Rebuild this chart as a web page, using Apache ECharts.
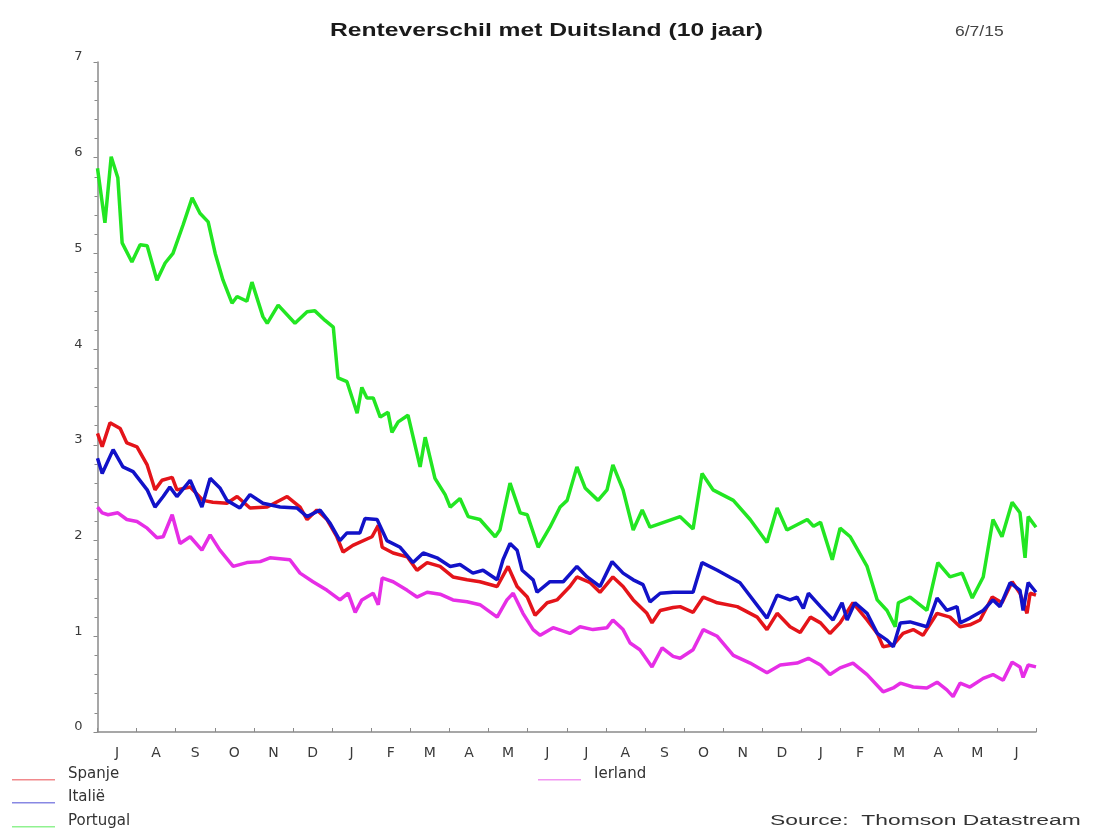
<!DOCTYPE html>
<html>
<head>
<meta charset="utf-8">
<script src="https://cdn.jsdelivr.net/npm/echarts@6/dist/echarts.min.js"></script>
<style>
html,body{margin:0;padding:0;background:#fff;}
#chart{width:1096px;height:830px;}
</style>
</head>
<body>
<div id="chart"></div>
<script>
// month labels (July 2013 - June 2015)
const monthLabels = ['J','A','S','O','N','D','J','F','M','A','M','J','J','A','S','O','N','D','J','F','M','A','M','J'];
const yTicks = [0,1,2,3,4,5,6,7];
const titleText = 'Renteverschil met Duitsland (10 jaar)';
const dateText = '6/7/15';
const sourceText = 'Source:  Thomson Datastream';

// time in months since 1 July 2013, values in percentage points
const spanjeT = [0.00,0.12,0.32,0.58,0.75,1.01,1.27,1.47,1.65,1.91,2.03,2.37,2.70,2.95,3.31,3.57,3.90,4.34,4.85,5.18,5.36,5.61,5.87,6.12,6.28,6.53,7.02,7.18,7.28,7.56,7.92,8.17,8.43,8.76,9.09,9.45,9.78,10.22,10.50,10.73,10.99,11.19,11.50,11.75,12.08,12.26,12.60,12.85,13.18,13.44,13.70,14.05,14.18,14.39,14.72,14.90,15.23,15.49,15.85,16.36,16.87,17.12,17.38,17.71,17.97,18.23,18.49,18.73,18.99,19.32,19.68,19.94,20.09,20.35,20.60,20.86,21.11,21.47,21.80,22.06,22.31,22.57,22.88,23.13,23.39,23.59,23.77,23.85,24.00];
const spanjeV = [3.12,2.98,3.23,3.17,3.02,2.98,2.79,2.53,2.63,2.66,2.53,2.56,2.42,2.40,2.39,2.46,2.34,2.35,2.46,2.35,2.22,2.32,2.22,2.04,1.88,1.95,2.04,2.16,1.93,1.87,1.83,1.69,1.77,1.73,1.62,1.59,1.57,1.52,1.73,1.52,1.41,1.22,1.35,1.38,1.52,1.62,1.56,1.46,1.62,1.52,1.38,1.24,1.14,1.27,1.30,1.31,1.25,1.41,1.35,1.31,1.20,1.07,1.24,1.10,1.04,1.20,1.14,1.03,1.14,1.35,1.17,1.03,0.89,0.91,1.03,1.07,1.01,1.24,1.20,1.10,1.12,1.17,1.41,1.35,1.57,1.45,1.24,1.45,1.43];

const italieT = [0.00,0.12,0.40,0.65,0.91,1.27,1.47,1.68,1.85,2.03,2.37,2.67,2.88,3.13,3.31,3.64,3.90,4.23,4.67,5.10,5.36,5.69,5.95,6.20,6.38,6.71,6.84,7.15,7.40,7.74,8.07,8.33,8.68,9.02,9.27,9.60,9.86,10.22,10.37,10.55,10.73,10.86,11.14,11.24,11.57,11.91,12.26,12.52,12.85,13.16,13.44,13.70,13.95,14.13,14.39,14.72,15.23,15.46,15.85,16.43,17.12,17.38,17.71,17.89,18.05,18.18,18.49,18.81,19.04,19.17,19.37,19.68,19.94,20.19,20.35,20.53,20.78,21.21,21.47,21.72,21.98,22.06,22.31,22.65,22.90,23.08,23.34,23.59,23.67,23.80,24.00];
const italieV = [2.86,2.70,2.95,2.77,2.72,2.53,2.35,2.46,2.56,2.46,2.63,2.35,2.65,2.55,2.42,2.34,2.48,2.39,2.35,2.34,2.25,2.32,2.18,2.00,2.08,2.08,2.23,2.22,2.00,1.93,1.77,1.87,1.82,1.73,1.75,1.66,1.69,1.59,1.80,1.97,1.90,1.69,1.59,1.46,1.57,1.57,1.73,1.62,1.52,1.78,1.66,1.59,1.54,1.36,1.45,1.46,1.46,1.77,1.69,1.56,1.19,1.43,1.38,1.41,1.29,1.45,1.31,1.17,1.35,1.17,1.35,1.24,1.03,0.96,0.89,1.14,1.15,1.10,1.40,1.27,1.31,1.14,1.19,1.27,1.38,1.31,1.56,1.48,1.27,1.56,1.46];

const portugalT = [0.00,0.19,0.35,0.52,0.63,0.88,1.09,1.27,1.52,1.73,1.93,2.19,2.42,2.62,2.83,3.01,3.21,3.44,3.57,3.82,3.95,4.23,4.34,4.62,5.05,5.36,5.56,5.82,6.03,6.15,6.38,6.64,6.76,6.89,7.05,7.23,7.43,7.53,7.69,7.94,8.25,8.38,8.63,8.89,9.02,9.27,9.48,9.78,10.17,10.29,10.55,10.81,10.99,11.27,11.57,11.83,12.01,12.26,12.47,12.80,13.03,13.18,13.44,13.70,13.93,14.13,14.90,15.23,15.46,15.74,16.26,16.69,17.12,17.38,17.63,18.15,18.31,18.49,18.79,18.99,19.25,19.68,19.94,20.19,20.40,20.48,20.78,21.21,21.49,21.80,22.11,22.37,22.65,22.90,23.13,23.39,23.59,23.72,23.80,24.00];
const portugalV = [5.89,5.32,6.01,5.79,5.11,4.91,5.09,5.08,4.72,4.90,5.00,5.30,5.58,5.42,5.33,5.00,4.72,4.48,4.55,4.50,4.70,4.34,4.27,4.46,4.27,4.39,4.40,4.30,4.23,3.70,3.66,3.33,3.60,3.49,3.49,3.29,3.34,3.13,3.24,3.31,2.77,3.08,2.65,2.48,2.35,2.44,2.25,2.22,2.04,2.11,2.60,2.29,2.27,1.93,2.14,2.35,2.42,2.77,2.55,2.42,2.53,2.79,2.53,2.11,2.32,2.14,2.25,2.12,2.70,2.53,2.42,2.22,1.98,2.34,2.11,2.22,2.15,2.19,1.80,2.13,2.04,1.73,1.38,1.27,1.10,1.35,1.41,1.27,1.77,1.62,1.66,1.40,1.62,2.22,2.04,2.40,2.29,1.82,2.25,2.14];

const ierlandT = [0.00,0.12,0.27,0.52,0.75,1.01,1.27,1.52,1.68,1.91,2.11,2.37,2.67,2.88,3.13,3.47,3.82,4.16,4.41,4.92,5.18,5.51,5.87,6.20,6.41,6.59,6.76,7.05,7.18,7.28,7.56,7.92,8.17,8.43,8.76,9.09,9.45,9.78,10.22,10.47,10.63,10.88,11.14,11.32,11.65,12.08,12.34,12.67,13.03,13.18,13.44,13.62,13.87,14.18,14.44,14.72,14.90,15.23,15.49,15.85,16.26,16.69,17.12,17.46,17.89,18.18,18.49,18.73,18.99,19.32,19.68,20.09,20.35,20.53,20.86,21.21,21.47,21.72,21.88,22.06,22.31,22.65,22.90,23.16,23.39,23.59,23.67,23.80,24.00];
const ierlandV = [2.35,2.29,2.27,2.29,2.22,2.20,2.13,2.03,2.04,2.27,1.97,2.04,1.90,2.06,1.90,1.73,1.77,1.78,1.82,1.80,1.66,1.57,1.48,1.38,1.45,1.25,1.38,1.45,1.33,1.61,1.57,1.48,1.41,1.46,1.44,1.38,1.36,1.33,1.20,1.38,1.45,1.24,1.07,1.01,1.09,1.03,1.10,1.07,1.09,1.17,1.07,0.93,0.86,0.68,0.88,0.79,0.77,0.86,1.07,1.00,0.80,0.72,0.62,0.70,0.72,0.77,0.70,0.60,0.67,0.72,0.60,0.42,0.46,0.51,0.47,0.46,0.52,0.44,0.37,0.51,0.47,0.56,0.60,0.54,0.73,0.68,0.57,0.70,0.68];

function zip(t, v) { return t.map((x, i) => [x, v[i]]); }

const chart = echarts.init(document.getElementById('chart'), null, {renderer: 'canvas'});

// legend swatch: thin line sitting at the bottom of a 12px-high box (aligned with text baseline)
const LEGEND_ICON = 'path://M0,0 L0.01,0 L0,0.01 Z M0,10.5 L43,10.5 L43,12 L0,12 Z';

function legendFor(name, left, top) {
  return {data: [name], orient: 'horizontal', left: left, top: top,
    itemWidth: 43, itemHeight: 12, icon: LEGEND_ICON, padding: 0,
    itemStyle: {opacity: 0.5, borderWidth: 0},
    textStyle: {fontFamily: "'DejaVu Sans', sans-serif", fontSize: 15, color: '#333', padding: [0, 0, 0, 8]}};
}

const option = {
  animation: false,
  backgroundColor: '#ffffff',
  graphic: [
    {type: 'text', x: 330, y: 31, scaleX: 1.37, scaleY: 1,
     style: {text: titleText, font: "bold 18px 'Liberation Sans', Arial, sans-serif", fill: '#1a1a1a',
             textAlign: 'left', textVerticalAlign: 'middle'}},
    {type: 'text', x: 955, y: 32, scaleX: 1.25, scaleY: 1,
     style: {text: dateText, font: "14px 'Liberation Sans', Arial, sans-serif", fill: '#444',
             textAlign: 'left', textVerticalAlign: 'middle'}},
    {type: 'text', x: 770, y: 821, scaleX: 1.63, scaleY: 1,
     style: {text: sourceText, font: "14px 'Liberation Sans', Arial, sans-serif", fill: '#333',
             textAlign: 'left', textVerticalAlign: 'middle'}}
  ],
  legend: [
    legendFor('Spanje', 12, 767),
    legendFor('Italië', 12, 790),
    legendFor('Portugal', 12, 814),
    legendFor('Ierland', 538, 767)
  ],
  grid: {left: 97.5, right: 60, top: 62, bottom: 98},
  xAxis: [
    {type: 'value', min: 0, max: 24, show: false},
    {type: 'category', data: monthLabels, boundaryGap: true, position: 'bottom',
     axisLine: {show: true, lineStyle: {color: '#8a8a8a', width: 1.5}},
     axisTick: {show: true, inside: true, length: 4, lineStyle: {color: '#8a8a8a'}},
     axisLabel: {fontFamily: "'DejaVu Sans', sans-serif", fontSize: 14, color: '#3a3a3a', margin: 14},
     splitLine: {show: false}}
  ],
  yAxis: {
    type: 'value', min: 0, max: 7, interval: 1,
    axisLine: {show: true, lineStyle: {color: '#8a8a8a', width: 1.5}},
    axisTick: {show: true, length: 4, lineStyle: {color: '#8a8a8a'}},
    minorTick: {show: true, splitNumber: 5, length: 3, lineStyle: {color: '#8a8a8a'}},
    axisLabel: {fontFamily: "'DejaVu Sans', sans-serif", fontSize: 13, color: '#3a3a3a', margin: 15,
      formatter: v => yTicks.includes(v) ? String(v) : '',
      verticalAlign: 'bottom', lineHeight: 10},
    splitLine: {show: false}
  },
  series: [
    {name: 'Spanje', type: 'line', xAxisIndex: 0, data: zip(spanjeT, spanjeV), showSymbol: false,
     color: '#e4141a', lineStyle: {width: 3.5, color: '#e4141a'}},
    {name: 'Italië', type: 'line', xAxisIndex: 0, data: zip(italieT, italieV), showSymbol: false,
     color: '#1212c8', lineStyle: {width: 3.5, color: '#1212c8'}},
    {name: 'Portugal', type: 'line', xAxisIndex: 0, data: zip(portugalT, portugalV), showSymbol: false,
     color: '#22e622', lineStyle: {width: 3.5, color: '#22e622'}},
    {name: 'Ierland', type: 'line', xAxisIndex: 0, data: zip(ierlandT, ierlandV), showSymbol: false,
     color: '#e62ee6', lineStyle: {width: 3.5, color: '#e62ee6'}}
  ]
};
chart.setOption(option);
</script>
</body>
</html>
